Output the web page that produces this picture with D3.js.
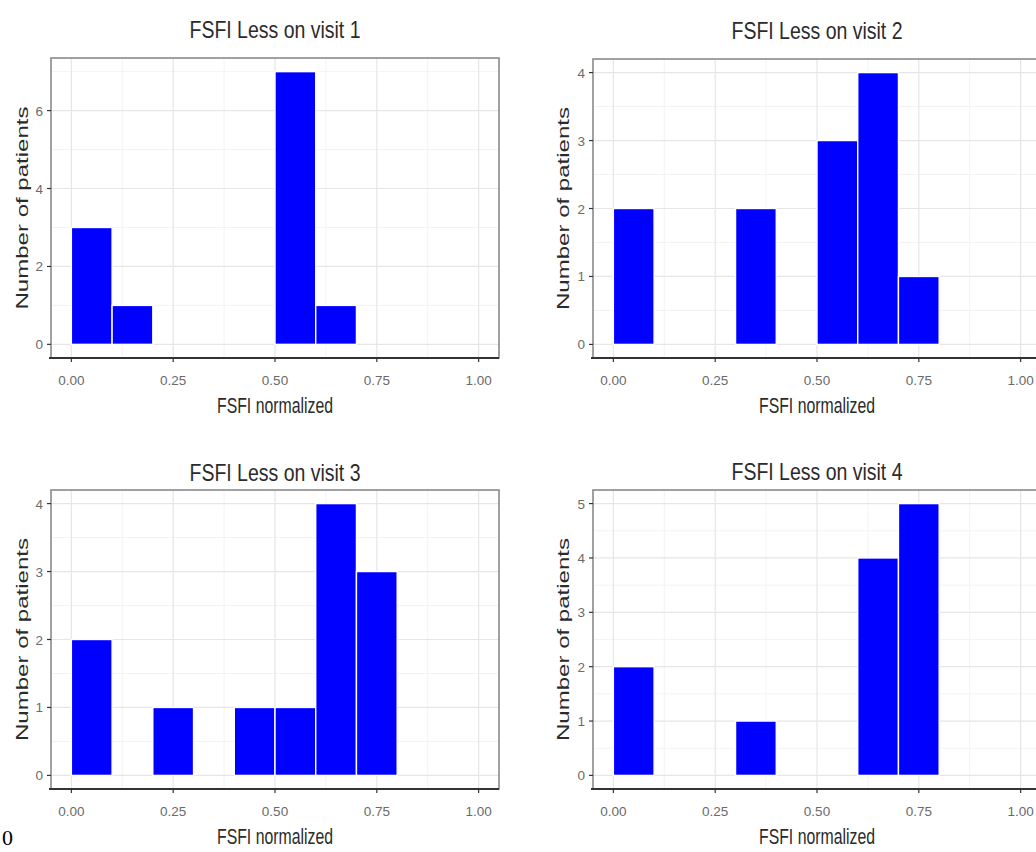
<!DOCTYPE html>
<html>
<head>
<meta charset="utf-8">
<script src="https://cdn.jsdelivr.net/npm/d3@7"></script>
<style>
  html, body { margin: 0; padding: 0; background: #fff; }
  svg { display: block; }
  text { font-family: "Liberation Sans", Arial, sans-serif; }
  text.serif { font-family: "Liberation Serif", "Times New Roman", serif; }
</style>
</head>
<body>
<svg id="chart" width="1036" height="852"></svg>
<script>
// Histogram bins of FSFI normalized score (width 0.1, from 0 to 1)
const binEdges = [0, 0.1, 0.2, 0.3, 0.4, 0.5, 0.6, 0.7, 0.8, 0.9, 1.0];

// Number of patients in each bin, per visit
const visit1Counts = [3, 1, 0, 0, 0, 7, 1, 0, 0, 0];
const visit2Counts = [2, 0, 0, 2, 0, 3, 4, 1, 0, 0];
const visit3Counts = [2, 0, 1, 0, 1, 1, 4, 3, 0, 0];
const visit4Counts = [2, 0, 0, 1, 0, 0, 4, 5, 0, 0];

const panelTitles = ["FSFI Less on visit 1", "FSFI Less on visit 2", "FSFI Less on visit 3", "FSFI Less on visit 4"];

// Axis ticks
const xTicks = [0, 0.25, 0.5, 0.75, 1.0];
const xTickLabels = ["0.00", "0.25", "0.50", "0.75", "1.00"];
const yTicks1 = [0, 2, 4, 6];
const yTicks2 = [0, 1, 2, 3, 4];
const yTicks3 = [0, 1, 2, 3, 4];
const yTicks4 = [0, 1, 2, 3, 4, 5];

const xTitle = "FSFI normalized";
const yTitle = "Number of patients";

const svg = d3.select("#chart");

// Panel placement on the page
const panels = [
  { counts: visit1Counts, yTicks: yTicks1, title: panelTitles[0], left: 51, right: 499, top: 58, bottom: 358, titleY: 38, yTitleX: 22 },
  { counts: visit2Counts, yTicks: yTicks2, title: panelTitles[1], left: 593, right: 1041, top: 59, bottom: 358, titleY: 39, yTitleX: 563 },
  { counts: visit3Counts, yTicks: yTicks3, title: panelTitles[2], left: 51, right: 499, top: 490, bottom: 789, titleY: 481, yTitleX: 22 },
  { counts: visit4Counts, yTicks: yTicks4, title: panelTitles[3], left: 593, right: 1041, top: 490, bottom: 789, titleY: 480, yTitleX: 563 }
];

// minor breaks halfway between major ticks, kept inside the panel limits
function midpoints(ticks, lo, hi) {
  const step = ticks[1] - ticks[0];
  const ext = [ticks[0] - step].concat(ticks, [ticks[ticks.length - 1] + step]);
  const out = [];
  for (let i = 0; i < ext.length - 1; i++) {
    const m = (ext[i] + ext[i + 1]) / 2;
    if (m >= lo && m <= hi) out.push(m);
  }
  return out;
}

panels.forEach(p => {
  const bins = p.counts.map((c, i) => ({ x0: binEdges[i], x1: binEdges[i + 1], n: c }));
  const maxN = d3.max(p.counts);
  const pad = maxN * 0.05;
  const x = d3.scaleLinear().domain([-0.05, 1.05]).range([p.left, p.right]);
  const y = d3.scaleLinear().domain([-pad, maxN + pad]).range([p.bottom, p.top]);

  const g = svg.append("g");

  // panel background
  g.append("rect")
    .attr("x", p.left).attr("y", p.top)
    .attr("width", p.right - p.left).attr("height", p.bottom - p.top)
    .attr("fill", "#fff");

  // minor grid
  const xMinor = midpoints(xTicks, -0.05, 1.05);
  const yMinor = midpoints(p.yTicks, -pad, maxN + pad);
  g.selectAll(".xminor").data(xMinor).join("line")
    .attr("x1", d => x(d)).attr("x2", d => x(d))
    .attr("y1", p.top).attr("y2", p.bottom)
    .attr("stroke", "#f3f3f3").attr("stroke-width", 1);
  g.selectAll(".yminor").data(yMinor).join("line")
    .attr("x1", p.left).attr("x2", p.right)
    .attr("y1", d => y(d)).attr("y2", d => y(d))
    .attr("stroke", "#f3f3f3").attr("stroke-width", 1);

  // major grid
  g.selectAll(".xmajor").data(xTicks).join("line")
    .attr("x1", d => x(d)).attr("x2", d => x(d))
    .attr("y1", p.top).attr("y2", p.bottom)
    .attr("stroke", "#e6e6e6").attr("stroke-width", 1.2);
  g.selectAll(".ymajor").data(p.yTicks).join("line")
    .attr("x1", p.left).attr("x2", p.right)
    .attr("y1", d => y(d)).attr("y2", d => y(d))
    .attr("stroke", "#e6e6e6").attr("stroke-width", 1.2);

  // bars
  g.selectAll(".bar").data(bins.filter(b => b.n > 0)).join("rect")
    .attr("x", d => x(d.x0))
    .attr("width", d => x(d.x1) - x(d.x0))
    .attr("y", d => y(d.n))
    .attr("height", d => y(0) - y(d.n))
    .attr("fill", "#0000ff")
    .attr("stroke", "#ffffff")
    .attr("stroke-width", 1.4);

  // panel border
  g.append("rect")
    .attr("x", p.left).attr("y", p.top)
    .attr("width", p.right - p.left).attr("height", p.bottom - p.top)
    .attr("fill", "none").attr("stroke", "#8a8a8a").attr("stroke-width", 1.6);

  // x axis line
  g.append("line")
    .attr("x1", p.left - 2).attr("x2", p.right)
    .attr("y1", p.bottom).attr("y2", p.bottom)
    .attr("stroke", "#333").attr("stroke-width", 2.2);

  // x ticks and labels
  g.selectAll(".xtick").data(xTicks).join("line")
    .attr("x1", d => x(d)).attr("x2", d => x(d))
    .attr("y1", p.bottom).attr("y2", p.bottom + 4)
    .attr("stroke", "#333").attr("stroke-width", 1.2);
  g.selectAll(".xlab").data(xTicks).join("text")
    .attr("x", d => x(d)).attr("y", p.bottom + 27)
    .attr("text-anchor", "middle")
    .attr("font-size", 13.5).attr("fill", "#6a6a6a")
    .text((d, i) => xTickLabels[i]);

  // y ticks and labels
  g.selectAll(".ytick").data(p.yTicks).join("line")
    .attr("x1", p.left - 4).attr("x2", p.left)
    .attr("y1", d => y(d)).attr("y2", d => y(d))
    .attr("stroke", "#333").attr("stroke-width", 1.2);
  g.selectAll(".ylab").data(p.yTicks).join("text")
    .attr("x", p.left - 8).attr("y", d => y(d) + 5)
    .attr("text-anchor", "end")
    .attr("font-size", 13.5).attr("fill", "#6a6a6a")
    .text(d => d);

  // titles
  const cx = (p.left + p.right) / 2;
  g.append("text")
    .attr("x", cx).attr("y", p.titleY)
    .attr("text-anchor", "middle")
    .attr("font-size", 24).attr("fill", "#2b2b2b")
    .attr("textLength", 171).attr("lengthAdjust", "spacingAndGlyphs")
    .text(p.title);

  g.append("text")
    .attr("x", cx).attr("y", p.bottom + 55)
    .attr("text-anchor", "middle")
    .attr("font-size", 22).attr("fill", "#2b2b2b")
    .attr("textLength", 116).attr("lengthAdjust", "spacingAndGlyphs")
    .text(xTitle);

  const cy = (p.top + p.bottom) / 2;
  g.append("text")
    .attr("transform", `translate(${p.yTitleX + 6},${cy}) rotate(-90)`)
    .attr("text-anchor", "middle")
    .attr("font-size", 16.5).attr("fill", "#2b2b2b")
    .attr("textLength", 203).attr("lengthAdjust", "spacingAndGlyphs")
    .text(yTitle);
});

// page number fragment at the lower left corner
svg.append("text")
  .attr("class", "serif")
  .attr("x", 2).attr("y", 845)
  .attr("font-size", 22).attr("fill", "#000")
  .text("0");
</script>
</body>
</html>
